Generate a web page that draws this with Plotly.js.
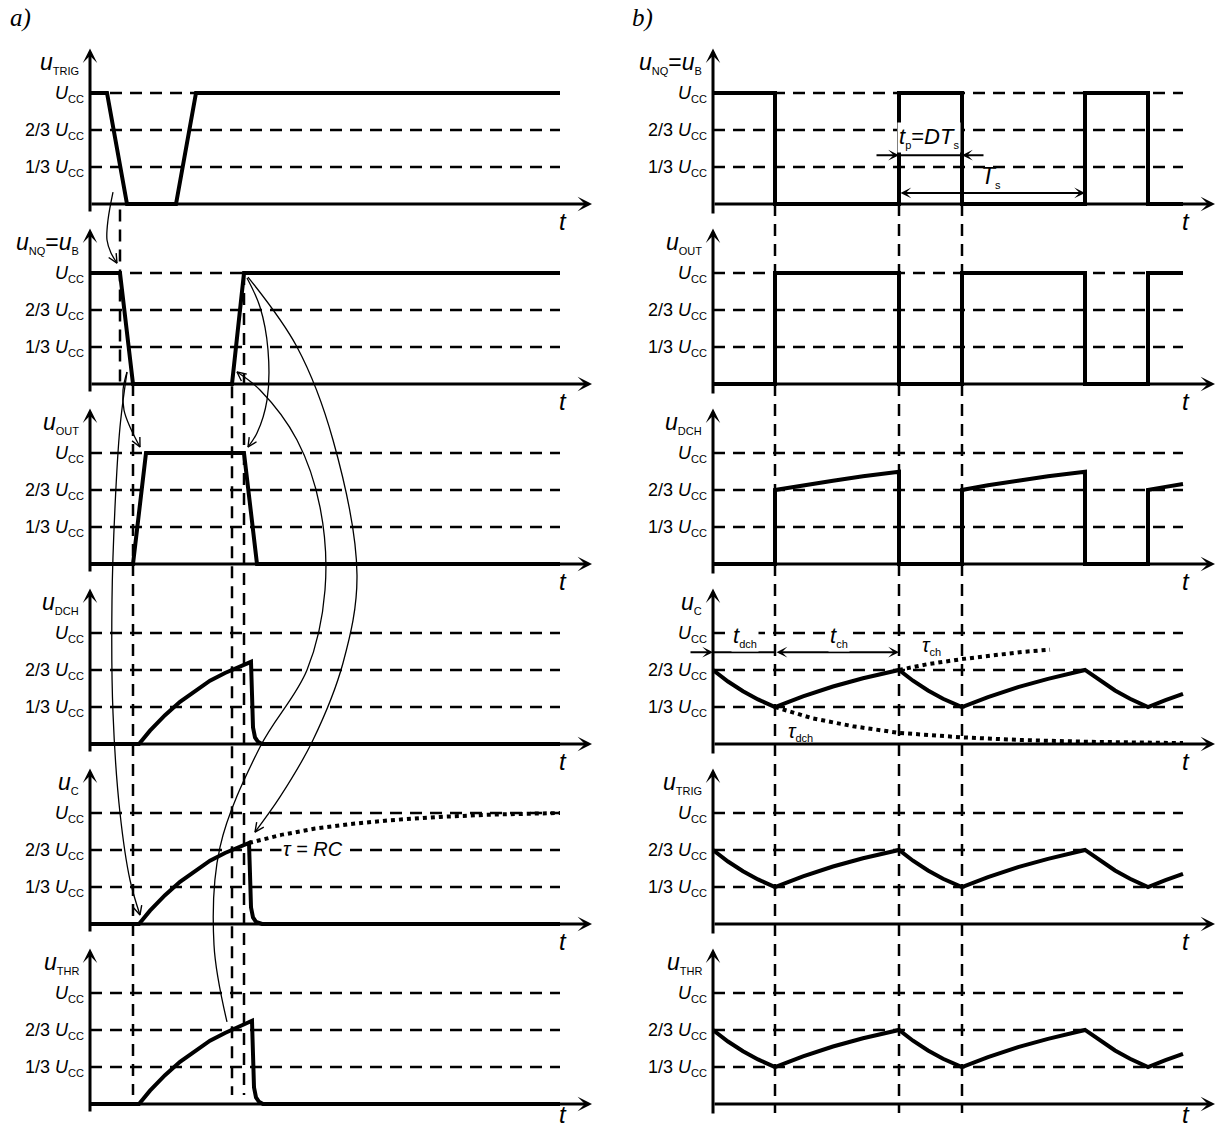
<!DOCTYPE html>
<html><head><meta charset="utf-8">
<script src="https://cdn.plot.ly/plotly-3.0.1.min.js"></script>
<style>html,body{margin:0;padding:0;background:#fff}</style>
</head><body><div id="chart" style="width:1225px;height:1129px"></div>
<script>
// ================= DATA =================
const levelValues = [1/3, 2/3, 1];
const SUB = s => '<sub><span style="font-size:11px">' + s + '</span></sub>';
const UCC = '<i>U</i>' + SUB('CC');
const levelLabels = ['1/3 ' + UCC, '2/3 ' + UCC, UCC];

const rowLabelsA = ['<i>u</i>' + SUB('TRIG'), '<i>u</i>' + SUB('NQ') + '=<i>u</i>' + SUB('B'),
  '<i>u</i>' + SUB('OUT'), '<i>u</i>' + SUB('DCH'), '<i>u</i>' + SUB('C'), '<i>u</i>' + SUB('THR')];
const rowLabelsB = ['<i>u</i>' + SUB('NQ') + '=<i>u</i>' + SUB('B'), '<i>u</i>' + SUB('OUT'),
  '<i>u</i>' + SUB('DCH'), '<i>u</i>' + SUB('C'), '<i>u</i>' + SUB('TRIG'), '<i>u</i>' + SUB('THR')];

// ---- column a) (time units, values in Ucc) ----
const trigA_t = [0, 3.4, 7.4, 17.2, 21.2, 94];
const trigA_v = [1, 1, 0, 0, 1, 1];
const nqA_t = [0, 6, 8.6, 28.4, 30.8, 94];
const nqA_v = [1, 1, 0, 0, 1, 1];
const outA_t = [0, 8.6, 11.2, 30.8, 33.4, 94];
const outA_v = [0, 0, 1, 1, 0, 0];
const dchA_t = [0, 9.8, 12, 15, 18, 21, 24, 27, 30, 32.2, 32.4, 32.6, 33.0, 33.6, 34.4, 94];
const dchA_v = [0, 0, 0.12, 0.26, 0.38, 0.48, 0.57, 0.64, 0.70, 0.74, 0.45, 0.15, 0.06, 0.02, 0, 0];
const capA_t = [0, 9.8, 12, 15, 18, 21, 24, 27, 30, 31.8, 32.0, 32.2, 32.6, 33.2, 34.4, 94];
const capA_v = [0, 0, 0.12, 0.26, 0.38, 0.48, 0.57, 0.64, 0.70, 0.73, 0.45, 0.15, 0.06, 0.02, 0, 0];
const capDotA_t = [31.8, 38, 45, 52, 60, 70, 80, 94];
const capDotA_v = [0.73, 0.80, 0.86, 0.90, 0.935, 0.965, 0.985, 1.0];
const thrA_t = [0, 9.8, 12, 15, 18, 21, 24, 27, 30, 32.4, 32.6, 32.8, 33.2, 33.8, 34.6, 94];
const thrA_v = [0, 0, 0.12, 0.26, 0.38, 0.48, 0.57, 0.64, 0.70, 0.75, 0.45, 0.15, 0.06, 0.02, 0, 0];

// ---- column b) ----
const nqB_t = [0, 12.4, 12.4, 37.2, 37.2, 49.8, 49.8, 74.4, 74.4, 87, 87, 94];
const nqB_v = [1, 1, 0, 0, 1, 1, 0, 0, 1, 1, 0, 0];
const outB_t = [0, 12.4, 12.4, 37.2, 37.2, 49.8, 49.8, 74.4, 74.4, 87, 87, 94];
const outB_v = [0, 0, 1, 1, 0, 0, 1, 1, 0, 0, 1, 1];
const dchB_t = [0, 12.4, 12.4, 18, 24, 30, 37.2, 37.2, 49.8, 49.8, 55, 61, 67, 74.4, 74.4, 87, 87, 90.5, 94];
const dchB_v = [0, 0, 0.667, 0.71, 0.75, 0.79, 0.83, 0, 0, 0.667, 0.71, 0.75, 0.79, 0.83, 0, 0, 0.667, 0.695, 0.72];
const capB_t = [0, 3, 6, 9, 12.4, 18, 24, 30, 37.2, 40, 43, 46, 49.8, 55, 61, 67, 74.4, 77.4, 80.4, 83.4, 87, 90.5, 94];
const capB_v = [0.667, 0.563, 0.476, 0.402, 0.333, 0.430, 0.518, 0.592, 0.667, 0.570, 0.482, 0.408, 0.333,
                0.423, 0.512, 0.587, 0.667, 0.570, 0.482, 0.408, 0.333, 0.395, 0.452];
const tauChB_t = [37.2, 43, 49.8, 56, 62, 67.4];
const tauChB_v = [0.667, 0.72, 0.765, 0.80, 0.83, 0.85];
const tauDchB_t = [12.4, 20, 28, 37.2, 49.8, 62, 75, 94];
const tauDchB_v = [0.333, 0.23, 0.16, 0.10, 0.06, 0.035, 0.02, 0.008];

// vertical guide lines (time, [row, value] top, [row, value] bottom)
const guideA_t = [6, 8.6, 28.4, 30.8];
const guideA_top = [[0, -0.05], [1, 0], [1, -0.02], [1, 1]];
const guideA_bot = [[1, 0], [5, 0.08], [5, 0.08], [5, 0.08]];
const guideB_t = [12.4, 37.2, 49.8];
const guideB_top = [[0, 0], [0, 0], [0, 0]];
const guideB_bot = [[5, -0.08], [5, -0.08], [5, -0.08]];

// curved cause/effect connectors in column a) : time units, Ucc units from the first row's baseline
const connectors = [
  {t: [4.6, 3.6, 3.4, 4.2, 5.4], Y: [0.108, -0.144, -0.324, -0.441, -0.532]},
  {t: [7.4, 6.6, 6.8, 8.0, 10.0], Y: [-1.514, -1.676, -1.856, -2.009, -2.189]},
  {t: [7.4, 6.0, 5.0, 4.4, 4.6, 6.0, 8.0, 10.0], Y: [-1.514, -2.009, -2.730, -3.568, -4.586, -5.486, -6.090, -6.405]},
  {t: [31.4, 34.0, 35.6, 35.4, 33.4, 31.6], Y: [-0.667, -0.928, -1.315, -1.766, -2.063, -2.189]},
  {t: [31.6, 41.4, 48.6, 53.4, 50.6, 44.6, 38.0, 33.0], Y: [-0.658, -1.288, -2.126, -3.342, -4.135, -4.829, -5.342, -5.658]},
  {t: [27.4, 24.8, 26.0, 34.0, 43.4, 47.0, 46.0, 41.4, 34.0, 29.4], Y: [-7.369, -6.676, -5.793, -4.892, -4.198, -3.477, -2.730, -2.126, -1.676, -1.514]}
];

// ================= LAYOUT HELPERS =================
const FONT = '"Liberation Sans", Arial, sans-serif';
const W = 1225, H = 1129;
const AXIS_PX = [90, 713];
const PX_PER_T = 5;
const ROW0_PX = 204, ROW_STEP = 180, PX_PER_V = 111;
const XR = [0, 101], YR = [-0.2, 1.45];
const ROW_Y = ROW_STEP / PX_PER_V;
const COLB_SHIFT = (AXIS_PX[1] - AXIS_PX[0]) / PX_PER_T;

const traces = [];
const layout = {
  width: W, height: H, margin: {l: 0, r: 0, t: 0, b: 0},
  paper_bgcolor: '#ffffff', plot_bgcolor: 'rgba(0,0,0,0)', showlegend: false,
  font: {family: FONT, color: '#000', size: 18},
  shapes: [], annotations: []
};

function ids(k) { const s = k === 0 ? '' : String(k + 1); return {xa: 'xaxis' + s, ya: 'yaxis' + s, x: 'x' + s, y: 'y' + s}; }

const panels = [
  [[trigA_t, trigA_v]], [[nqA_t, nqA_v]], [[outA_t, outA_v]], [[dchA_t, dchA_v]],
  [[capA_t, capA_v], [capDotA_t, capDotA_v, 'dot']], [[thrA_t, thrA_v]],
  [[nqB_t, nqB_v]], [[outB_t, outB_v]], [[dchB_t, dchB_v]],
  [[capB_t, capB_v], [tauChB_t, tauChB_v, 'dot'], [tauDchB_t, tauDchB_v, 'dot']],
  [[capB_t, capB_v]], [[capB_t, capB_v]]
];

for (let k = 0; k < 12; k++) {
  const col = Math.floor(k / 6), row = k % 6;
  const id = ids(k);
  const x0 = AXIS_PX[col];
  const Z = ROW0_PX + ROW_STEP * row;
  layout[id.xa] = {domain: [x0 / W, (x0 + (XR[1] - XR[0]) * PX_PER_T) / W], range: XR.slice(),
    visible: false, fixedrange: true, anchor: id.y};
  layout[id.ya] = {domain: [1 - (Z - YR[0] * PX_PER_V) / H, 1 - (Z - YR[1] * PX_PER_V) / H], range: YR.slice(),
    anchor: id.x, showgrid: false, zeroline: false, showline: false, ticks: '',
    tickmode: 'array', tickvals: levelValues, ticktext: levelLabels, ticklabelstandoff: 5,
    tickfont: {family: FONT, size: 18, color: '#000'}, fixedrange: true};
  // dashed level lines
  levelValues.forEach(v => layout.shapes.push({type: 'line', xref: id.x, yref: id.y, x0: 0, x1: 94, y0: v, y1: v,
    line: {color: '#000', width: 2.5, dash: '12px,8px'}, layer: 'below'}));
  // axes with arrows
  layout.annotations.push({xref: id.x, yref: id.y, axref: id.x, ayref: id.y, x: 0, y: 1.4, ax: 0, ay: col ? -0.1 : -0.08,
    showarrow: true, arrowhead: 3, arrowwidth: 3, arrowsize: 0.8, arrowcolor: '#000', standoff: 0, text: ''});
  layout.annotations.push({xref: id.x, yref: id.y, axref: id.x, ayref: id.y, x: 100.4, y: 0, ax: 0, ay: 0,
    showarrow: true, arrowhead: 3, arrowwidth: 3, arrowsize: 0.8, arrowcolor: '#000', standoff: 0, text: ''});
  // time label (the last row is anchored to the bottom edge so that it stays inside the picture)
  if (row < 5) {
    layout.annotations.push({xref: id.x, yref: id.y, x: 94.6, y: -0.16, text: '<i>t</i>', showarrow: false,
      font: {family: FONT, size: 24, color: '#000'}, xanchor: 'center', yanchor: 'middle', borderpad: 0});
  } else {
    layout.annotations.push({xref: id.x, yref: 'paper', x: 94.6, y: 0.5 / H, text: '<i>t</i>', showarrow: false,
      font: {family: FONT, size: 24, color: '#000'}, xanchor: 'center', yanchor: 'bottom', borderpad: 0});
  }
  layout.annotations.push({xref: 'paper', yref: id.y, x: (x0 - 9) / W, y: 1.27,
    text: (col ? rowLabelsB : rowLabelsA)[row], showarrow: false,
    font: {family: FONT, size: 23, color: '#000'}, xanchor: 'right', yanchor: 'middle'});
  panels[k].forEach(s => traces.push({x: s[0], y: s[1], xaxis: id.x, yaxis: id.y, mode: 'lines', hoverinfo: 'skip',
    line: {color: '#000', width: 4, dash: s[2] || 'solid'}}));
}

// overlay axes spanning the whole figure (column a time units)
layout.xaxis13 = {domain: [0, 1], range: [-AXIS_PX[0] / PX_PER_T, (W - AXIS_PX[0]) / PX_PER_T], visible: false, fixedrange: true, anchor: 'y13'};
layout.yaxis13 = {domain: [0, 1], range: [(ROW0_PX - H) / PX_PER_V, ROW0_PX / PX_PER_V], visible: false, fixedrange: true, anchor: 'x13'};
const Yof = (row, v) => v - row * ROW_Y;

guideA_t.forEach((t, i) => layout.shapes.push({type: 'line', xref: 'x13', yref: 'y13', x0: t, x1: t,
  y0: Yof(guideA_top[i][0], guideA_top[i][1]), y1: Yof(guideA_bot[i][0], guideA_bot[i][1]),
  line: {color: '#000', width: 2.5, dash: '12px,8px'}, layer: 'above'}));
guideB_t.forEach((t, i) => layout.shapes.push({type: 'line', xref: 'x13', yref: 'y13', x0: t + COLB_SHIFT, x1: t + COLB_SHIFT,
  y0: Yof(guideB_top[i][0], guideB_top[i][1]), y1: Yof(guideB_bot[i][0], guideB_bot[i][1]),
  line: {color: '#000', width: 2.5, dash: '12px,8px'}, layer: 'above'}));

// connector curves + open "V" heads oriented along the last chord
const HEAD_LEN = 10, HEAD_HALF = 0.45; // px, radians
connectors.forEach(c => {
  traces.push({x: c.t, y: c.Y, xaxis: 'x13', yaxis: 'y13', mode: 'lines', hoverinfo: 'skip',
    line: {color: '#000', width: 1.3, shape: 'spline', smoothing: 1}});
  const n = c.t.length;
  const dx = (c.t[n - 1] - c.t[n - 2]) * PX_PER_T, dy = -(c.Y[n - 1] - c.Y[n - 2]) * PX_PER_V;
  const ang = Math.atan2(dy, dx);
  const wing = s => {
    const a = ang + Math.PI + s * HEAD_HALF;
    return [c.t[n - 1] + HEAD_LEN * Math.cos(a) / PX_PER_T, c.Y[n - 1] - HEAD_LEN * Math.sin(a) / PX_PER_V];
  };
  const w1 = wing(1), w2 = wing(-1);
  traces.push({x: [w1[0], c.t[n - 1], w2[0]], y: [w1[1], c.Y[n - 1], w2[1]], xaxis: 'x13', yaxis: 'y13',
    mode: 'lines', hoverinfo: 'skip', line: {color: '#000', width: 1.4}});
});

// ---- annotations in column b ----
const A = layout.annotations, S = layout.shapes;
const dimArrow = (xr, yr, x, y, ax, ay, both) => A.push({xref: xr, yref: yr, axref: xr, ayref: yr, x: x, y: y, ax: ax, ay: ay,
  showarrow: true, arrowhead: 3, startarrowhead: 3, arrowside: both ? 'end+start' : 'end', arrowwidth: 2,
  arrowsize: 0.9, startarrowsize: 0.9, arrowcolor: '#000', standoff: 0, startstandoff: 0, text: ''});
const txt = (xr, yr, x, y, text, size, bg) => A.push({xref: xr, yref: yr, x: x, y: y, text: text, showarrow: false,
  font: {family: FONT, size: size, color: '#000'}, bgcolor: bg ? '#fff' : 'rgba(0,0,0,0)', borderpad: 1,
  xanchor: 'center', yanchor: 'middle'});

// row b1: tp and Ts
dimArrow('x7', 'y7', 37.2, 0.44, 32.4, 0.44, false);
dimArrow('x7', 'y7', 49.8, 0.44, 54.4, 0.44, false);
S.push({type: 'line', xref: 'x7', yref: 'y7', x0: 37.2, x1: 49.8, y0: 0.44, y1: 0.44, line: {color: '#000', width: 2}});
dimArrow('x7', 'y7', 74.4, 0.1, 37.2, 0.1, true);
txt('x7', 'y7', 43.2, 0.6, '<i>t</i>' + SUB('p') + '=<i>DT</i>' + SUB('s'), 22, true);
txt('x7', 'y7', 55.6, 0.24, '<i>T</i>' + SUB('s'), 23, false);

// row b4: tdch, tch
dimArrow('x10', 'y10', 0, 0.827, -4.8, 0.827, false);
S.push({type: 'line', xref: 'x10', yref: 'y10', x0: 0, x1: 12.4, y0: 0.827, y1: 0.827, line: {color: '#000', width: 2}});
dimArrow('x10', 'y10', 37.2, 0.827, 12.4, 0.827, true);
txt('x10', 'y10', 6.4, 0.97, '<i>t</i>' + SUB('dch'), 22, true);
txt('x10', 'y10', 25.2, 0.97, '<i>t</i>' + SUB('ch'), 22, true);
txt('x10', 'y10', 43.6, 0.88, '<i>τ</i>' + SUB('ch'), 20, false);
txt('x10', 'y10', 17.4, 0.11, '<i>τ</i>' + SUB('dch'), 20, false);

// row a5: tau = RC
txt('x5', 'y5', 44.6, 0.68, '<i>τ = RC</i>', 20, true);

// panel letters
A.push({xref: 'paper', yref: 'paper', x: 20 / W, y: 1 - 18 / H, text: '<i>a)</i>', showarrow: false,
  font: {family: '"Liberation Serif", "Times New Roman", serif', size: 25, color: '#000'}, xanchor: 'center', yanchor: 'middle'});
A.push({xref: 'paper', yref: 'paper', x: 642 / W, y: 1 - 18 / H, text: '<i>b)</i>', showarrow: false,
  font: {family: '"Liberation Serif", "Times New Roman", serif', size: 25, color: '#000'}, xanchor: 'center', yanchor: 'middle'});

Plotly.newPlot('chart', traces, layout, {staticPlot: true});
</script></body></html>
